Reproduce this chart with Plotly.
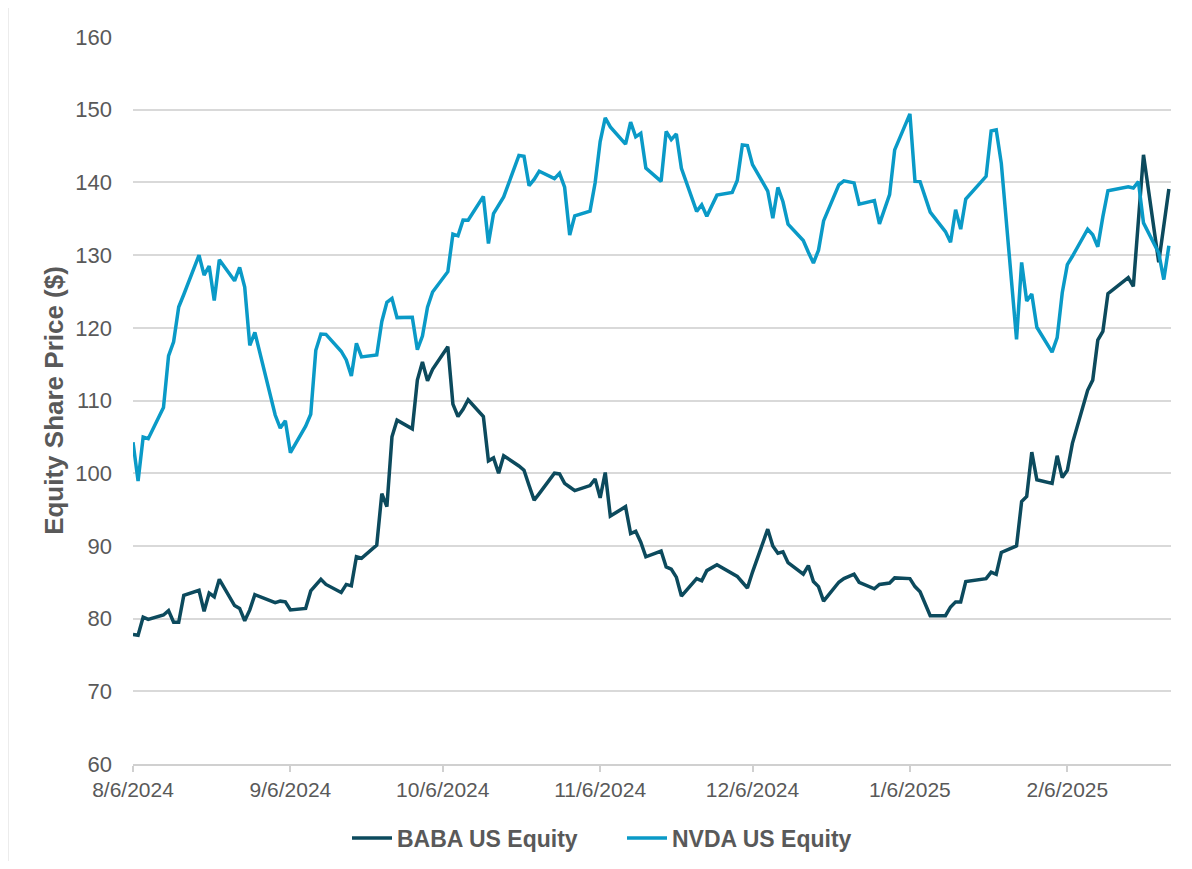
import plotly.graph_objects as go

dates = [
    "2024-08-06","2024-08-07","2024-08-08","2024-08-09","2024-08-12","2024-08-13","2024-08-14","2024-08-15","2024-08-16",
    "2024-08-19","2024-08-20","2024-08-21","2024-08-22","2024-08-23","2024-08-26","2024-08-27","2024-08-28","2024-08-29","2024-08-30",
    "2024-09-03","2024-09-04","2024-09-05","2024-09-06","2024-09-09","2024-09-10","2024-09-11","2024-09-12","2024-09-13",
    "2024-09-16","2024-09-17","2024-09-18","2024-09-19","2024-09-20","2024-09-23","2024-09-24","2024-09-25","2024-09-26","2024-09-27","2024-09-30",
    "2024-10-01","2024-10-02","2024-10-03","2024-10-04","2024-10-07","2024-10-08","2024-10-09","2024-10-10","2024-10-11",
    "2024-10-14","2024-10-15","2024-10-16","2024-10-17","2024-10-18","2024-10-21","2024-10-22","2024-10-23","2024-10-24","2024-10-25",
    "2024-10-28","2024-10-29","2024-10-30","2024-10-31",
    "2024-11-01","2024-11-04","2024-11-05","2024-11-06","2024-11-07","2024-11-08","2024-11-11","2024-11-12","2024-11-13","2024-11-14","2024-11-15",
    "2024-11-18","2024-11-19","2024-11-20","2024-11-21","2024-11-22","2024-11-25","2024-11-26","2024-11-27","2024-11-29",
    "2024-12-02","2024-12-03","2024-12-04","2024-12-05","2024-12-06","2024-12-09","2024-12-10","2024-12-11","2024-12-12","2024-12-13",
    "2024-12-16","2024-12-17","2024-12-18","2024-12-19","2024-12-20","2024-12-23","2024-12-24","2024-12-26","2024-12-27","2024-12-30","2024-12-31",
    "2025-01-02","2025-01-03","2025-01-06","2025-01-07","2025-01-08","2025-01-10","2025-01-13","2025-01-14","2025-01-15","2025-01-16","2025-01-17",
    "2025-01-21","2025-01-22","2025-01-23","2025-01-24","2025-01-27","2025-01-28","2025-01-29","2025-01-30","2025-01-31",
    "2025-02-03","2025-02-04","2025-02-05","2025-02-06","2025-02-07","2025-02-10","2025-02-11","2025-02-12","2025-02-13","2025-02-14",
    "2025-02-18","2025-02-19","2025-02-20","2025-02-21","2025-02-24","2025-02-25","2025-02-26",
]

baba = [
    77.8, 77.7, 80.2, 79.9, 80.5, 81.1, 79.5, 79.5, 83.2, 83.9, 81.0, 83.5, 83.0, 85.4, 81.8, 81.4, 79.7, 81.2, 83.3,
    82.2, 82.4, 82.3, 81.2, 81.4, 83.8, 84.6, 85.4, 84.7, 83.6, 84.7, 84.5, 88.5, 88.3, 90.1, 97.2, 95.4, 105.0, 107.3, 106.1,
    112.8, 115.3, 112.7, 114.3, 117.4, 109.5, 107.8, 108.8, 110.1, 107.8, 101.7, 102.1, 100.0, 102.4, 101.0, 100.4, 98.3, 96.3, 97.2,
    100.0, 99.9, 98.6, 98.1,
    97.6, 98.3, 99.2, 96.6, 100.1, 94.1, 95.4, 91.7, 92.0, 90.5, 88.5, 89.3, 87.1, 86.8, 85.7, 83.1, 85.5, 85.2, 86.6, 87.4,
    86.1, 85.8, 85.0, 84.2, 86.4, 92.3, 90.0, 89.0, 89.2, 87.7, 86.1, 87.3, 85.1, 84.4, 82.4, 85.0, 85.5, 86.1, 85.0, 84.1, 84.7,
    84.9, 85.6, 85.5, 84.4, 83.7, 80.4, 80.4, 81.6, 82.3, 82.3, 85.1, 85.5, 86.4, 86.1, 89.1, 90.0, 96.1, 96.8, 102.9, 99.1,
    98.6, 102.4, 99.4, 100.4, 104.1, 111.4, 112.8, 118.3, 119.5, 124.7, 126.9, 125.7, 134.8, 143.8, 129.0, 134.0, 139.1,
]

nvda = [
    104.25, 98.91, 104.97, 104.75, 109.02, 116.14, 118.08, 122.86, 124.58, 130.00, 127.25, 128.50, 123.74, 129.37, 126.46, 128.30, 125.61, 117.59, 119.37,
    108.00, 106.21, 107.21, 102.83, 106.47, 108.10, 116.91, 119.14, 119.10, 116.78, 115.59, 113.37, 117.87, 116.00, 116.26, 120.87, 123.51, 124.04, 121.40, 121.44,
    117.00, 118.85, 122.85, 124.92, 127.72, 132.89, 132.65, 134.81, 134.80, 138.07, 131.60, 135.72, 136.93, 138.00, 143.71, 143.59, 139.56, 140.41, 141.54,
    140.52, 141.25, 139.34, 132.76,
    135.40, 136.05, 139.91, 145.61, 148.88, 147.63, 145.26, 148.29, 146.27, 146.76, 141.98, 140.15, 147.01, 145.89, 146.67, 141.95, 136.02, 136.92, 135.34, 138.25,
    138.63, 140.26, 145.14, 145.06, 142.44, 138.81, 135.07, 139.31, 137.34, 134.25, 132.00, 130.39, 128.91, 130.68, 134.70, 139.67, 140.22, 139.93, 137.01, 137.49, 134.29,
    138.31, 144.47, 149.43, 140.14, 140.11, 135.91, 133.23, 131.76, 136.24, 133.57, 137.71, 140.83, 147.07, 147.22, 142.62, 118.42, 128.99, 123.70, 124.65, 120.07,
    116.66, 118.65, 124.83, 128.68, 129.84, 133.57, 132.80, 131.14, 135.29, 138.85, 139.40, 139.23, 140.11, 134.43, 130.28, 126.63, 131.28,
]

tick_dates = ["2024-08-06", "2024-09-06", "2024-10-06", "2024-11-06", "2024-12-06", "2025-01-06", "2025-02-06"]
tick_labels = ["8/6/2024", "9/6/2024", "10/6/2024", "11/6/2024", "12/6/2024", "1/6/2025", "2/6/2025"]
y_ticks = [60, 70, 80, 90, 100, 110, 120, 130, 140, 150, 160]

FONT = "Liberation Sans, Arial, sans-serif"
GRAY = "#595959"

fig = go.Figure()
fig.add_trace(go.Scatter(x=dates, y=baba, mode="lines", name="BABA US Equity",
                         line=dict(color="#0c4a5d", width=3.5)))
fig.add_trace(go.Scatter(x=dates, y=nvda, mode="lines", name="NVDA US Equity",
                         line=dict(color="#0a9ac7", width=3.5)))

# page body has an 8px offset; screen plot area: left 133, top 37, 1038 x 727
OFF = 8
SL, ST, PW, PH = 133, 37, 1038, 727
W, H = 1176, 853
L, T = SL - OFF, ST - OFF
R = W - L - PW
B = H - T - PH

def px(sx):
    return (sx - SL) / PW

def py(sy):
    return (ST + PH - sy) / PH

fig.update_layout(
    width=W, height=H,
    margin=dict(l=L, r=R, t=T, b=B, autoexpand=False),
    paper_bgcolor="white", plot_bgcolor="white",
    font=dict(family=FONT, color=GRAY, size=21),
    showlegend=True,
    legend=dict(orientation="h", x=px(622), xanchor="center", y=py(838), yanchor="middle",
                font=dict(family=FONT, size=23, color=GRAY, weight="bold"),
                bgcolor="rgba(0,0,0,0)", entrywidth=220, entrywidthmode="pixels",
                itemwidth=40, traceorder="normal"),
    xaxis=dict(type="date", range=["2024-08-06", "2025-02-26 10:00"],
               tickvals=tick_dates, ticktext=tick_labels,
               showgrid=False, zeroline=False,
               showline=True, linecolor="#d0d0d0", linewidth=1.5,
               ticks="outside", ticklen=6, tickcolor="#d0d0d0", tickwidth=1.5,
               tickfont=dict(family=FONT, size=21, color=GRAY)),
    yaxis=dict(range=[60, 160], tickvals=y_ticks,
               showgrid=True, gridcolor="#d9d9d9", gridwidth=1.5,
               zeroline=False, showline=False, ticks="",
               ticklabelstandoff=20,
               tickfont=dict(family=FONT, size=22, color=GRAY),
               title=dict(text="Equity Share Price ($)", standoff=4,
                          font=dict(family=FONT, size=26, color=GRAY, weight="bold"))),
    shapes=[dict(type="rect", xref="paper", yref="paper",
                 x0=px(8), x1=px(1186),
                 y0=py(862), y1=py(7),
                 line=dict(color="#d9d9d9", width=1), fillcolor="rgba(0,0,0,0)", layer="below")],
)

fig.write_html("out.html")
